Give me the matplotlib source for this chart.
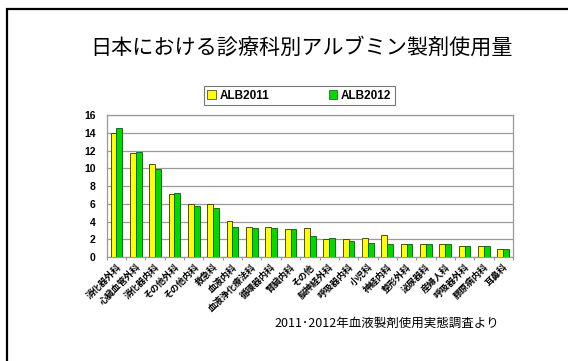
import matplotlib
matplotlib.use("Agg")
import matplotlib.pyplot as plt
import numpy as np
from matplotlib.patches import Rectangle

plt.rcParams['font.family'] = ['Noto Sans CJK JP', 'DejaVu Sans']

# 診療科ごとのアルブミン製剤使用量
診療科 = ['消化器外科', '心臓血管外科', '消化器内科', 'その他外科', 'その他内科',
        '救急科', '血液内科', '血液浄化療法科', '循環器内科', '腎臓内科', 'その他',
        '脳神経外科', '呼吸器内科', '小児科', '神経内科', '整形外科', '泌尿器科',
        '産婦人科', '呼吸器外科', '膠原病内科', '耳鼻科']
alb2011 = [14.0, 11.7, 10.5, 7.15, 6.0, 6.0, 4.05, 3.4, 3.4, 3.2, 3.3,
           2.0, 2.05, 2.2, 2.5, 1.45, 1.45, 1.45, 1.3, 1.3, 0.95]
alb2012 = [14.6, 11.8, 9.95, 7.2, 5.8, 5.5, 3.4, 3.3, 3.3, 3.2, 2.4,
           2.15, 1.8, 1.6, 1.5, 1.5, 1.5, 1.45, 1.3, 1.2, 0.95]
yticks = [0, 2, 4, 6, 8, 10, 12, 14, 16]

fig = plt.figure(figsize=(5.68, 3.61), dpi=100)
ax = fig.add_axes([0.188, 0.288, 0.715, 0.393])

x = np.arange(len(診療科))
w = 0.3
ax.bar(x - w / 2, alb2011, w, color='#ffff00', edgecolor='#333300', linewidth=0.6,
       label='ALB2011', zorder=3)
ax.bar(x + w / 2, alb2012, w, color='#00d800', edgecolor='#0a5a0a', linewidth=0.6,
       label='ALB2012', zorder=3)

ax.set_xlim(-0.5, len(診療科) - 0.5)
ax.set_ylim(0, 16)
ax.set_yticks(yticks)
ax.set_yticklabels([str(v) for v in yticks], fontsize=7.5, fontweight='bold',
                   family=['Liberation Sans'])
ax.yaxis.grid(True, color='#9a9a9a', linewidth=0.9, zorder=0)
ax.tick_params(axis='y', length=0, pad=8)

ax.set_xticks(x)
ax.set_xticklabels(診療科, rotation=45, ha='right', rotation_mode='anchor',
                   fontsize=6.5, fontweight='bold')
ax.tick_params(axis='x', length=0, pad=4)
ax.set_xticks(np.arange(-0.5, len(診療科)), minor=True)
ax.tick_params(axis='x', which='minor', length=2, color='#8080a0')

for s in ax.spines.values():
    s.set_color('#9a9a9a')
    s.set_linewidth(0.9)

leg = ax.legend(loc='center', bbox_to_anchor=(0.527, 0.735),
                bbox_transform=fig.transFigure, ncol=2, frameon=True,
                fancybox=False, edgecolor='#555555', handlelength=0.75,
                handleheight=0.75, columnspacing=5.0, handletextpad=0.3,
                borderpad=0.3, borderaxespad=0, prop={'family': 'Liberation Sans',
                                                      'weight': 'bold', 'size': 8.5})
leg.get_frame().set_linewidth(0.8)
for h in leg.legend_handles:
    h.set_linewidth(0.5)

fig.text(0.53, 0.867, '日本における診療科別アルブミン製剤使用量',
         ha='center', va='center', fontsize=15.2)
fig.text(0.484, 0.103, '2011･2012年血液製剤使用実態調査より',
         ha='left', va='center', fontsize=9)

# 外枠
fig.patches.append(Rectangle((7 / 568, -0.1), 1.2, 352 / 361 + 0.1,
                             transform=fig.transFigure, fill=False,
                             edgecolor='black', linewidth=1.6))

fig.savefig('out.png', dpi=100)
